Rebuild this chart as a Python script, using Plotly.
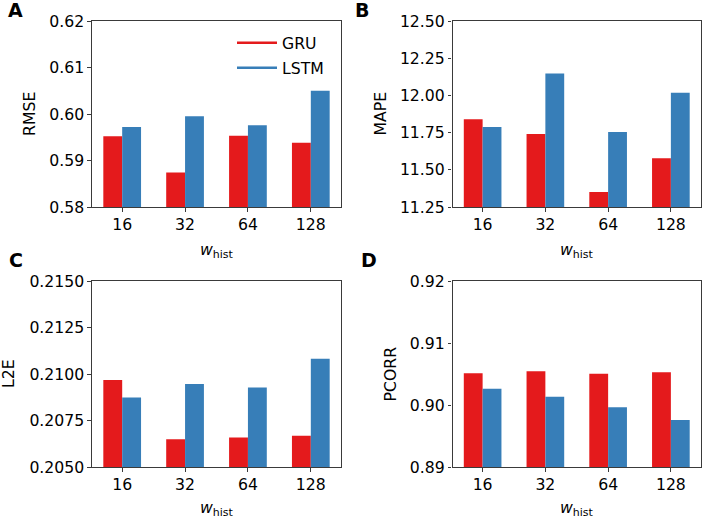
import plotly.graph_objects as go

# ---------------- data ----------------
w_hist = ["16", "32", "64", "128"]

rmse_gru = [0.5952, 0.5874, 0.5953, 0.5938]
rmse_lstm = [0.5972, 0.5995, 0.5976, 0.6050]

mape_gru = [11.839, 11.741, 11.351, 11.577]
mape_lstm = [11.788, 12.148, 11.754, 12.018]

l2e_gru = [0.20968, 0.20649, 0.20658, 0.20668]
l2e_lstm = [0.20873, 0.20946, 0.20927, 0.21082]

pcorr_gru = [0.90511, 0.90543, 0.90505, 0.90527]
pcorr_lstm = [0.90263, 0.90134, 0.89962, 0.89758]

rmse_ticks = [0.58, 0.59, 0.60, 0.61, 0.62]
mape_ticks = [11.25, 11.50, 11.75, 12.00, 12.25, 12.50]
l2e_ticks = [0.2050, 0.2075, 0.2100, 0.2125, 0.2150]
pcorr_ticks = [0.89, 0.90, 0.91, 0.92]

RED = "#e41a1c"
BLUE = "#377eb8"
FONT = "DejaVu Sans"
W, H = 704, 519
AX = "#3a3a3a"

panels = [
    dict(gru=rmse_gru, lstm=rmse_lstm, ticks=rmse_ticks, fmt=".2f", name="RMSE", letter="A"),
    dict(gru=mape_gru, lstm=mape_lstm, ticks=mape_ticks, fmt=".2f", name="MAPE", letter="B"),
    dict(gru=l2e_gru, lstm=l2e_lstm, ticks=l2e_ticks, fmt=".4f", name="L2E", letter="C"),
    dict(gru=pcorr_gru, lstm=pcorr_lstm, ticks=pcorr_ticks, fmt=".2f", name="PCORR", letter="D"),
]

# pixel layout of axes boxes (left, right, top, bottom)
boxes = [
    (92, 341, 21, 207),
    (452.5, 701, 21, 207),
    (92, 341, 281, 467),
    (452.5, 701, 281, 467),
]
ytitle_x = [29, 379.5, 8, 389.5]
xtitle_dy = [44, 44, 41, 41]
letter_pos = [(15.5, 9.5), (362, 9.5), (15.5, 259.5), (369, 259.5)]

fig = go.Figure()
layout = dict(
    width=W, height=H,
    margin=dict(l=0, r=0, t=0, b=0),
    paper_bgcolor="white", plot_bgcolor="white",
    font=dict(family=FONT, size=15.7, color="black"),
    barmode="group", bargap=0.4, bargroupgap=0.0,
    showlegend=True,
    legend=dict(x=232 / W, y=1 - 26 / H, xanchor="left", yanchor="top",
                bgcolor="rgba(0,0,0,0)", font=dict(size=15.7, family=FONT),
                tracegroupgap=1.6, traceorder="grouped", itemwidth=40),
)
annotations = []

for i, p in enumerate(panels):
    n = "" if i == 0 else str(i + 1)
    xa, ya = "x" + n, "y" + n
    l, r, t, b = boxes[i]
    fig.add_trace(go.Bar(x=w_hist, y=p["gru"], marker=dict(color=RED, line=dict(width=0)),
                         xaxis=xa, yaxis=ya, showlegend=False, name="GRU"))
    fig.add_trace(go.Bar(x=w_hist, y=p["lstm"], marker=dict(color=BLUE, line=dict(width=0)),
                         xaxis=xa, yaxis=ya, showlegend=False, name="LSTM"))
    axis_common = dict(showline=True, linecolor=AX, linewidth=1.1, mirror=True,
                       ticks="outside", ticklen=3.5, tickwidth=1.1, tickcolor=AX,
                       showgrid=False, zeroline=False, automargin=False,
                       tickfont=dict(family=FONT, size=15.7, color="black"))
    layout["xaxis" + n] = dict(axis_common, domain=[l / W, r / W], anchor=ya,
                               type="category", range=[-0.48, 3.48])
    layout["yaxis" + n] = dict(axis_common, domain=[1 - b / H, 1 - t / H], anchor=xa,
                               range=[p["ticks"][0], p["ticks"][-1]],
                               tickvals=p["ticks"], tickformat=p["fmt"])
    # axis titles
    annotations.append(dict(text=p["name"], x=ytitle_x[i] / W, y=1 - ((t + b) / 2) / H,
                            xref="paper", yref="paper", showarrow=False, textangle=-90,
                            xanchor="center", yanchor="middle",
                            font=dict(family=FONT, size=15.7, color="black")))
    annotations.append(dict(text="<i>w</i><sub>hist</sub>", x=((l + r) / 2) / W,
                            y=1 - (b + xtitle_dy[i]) / H,
                            xref="paper", yref="paper", showarrow=False,
                            xanchor="center", yanchor="middle",
                            font=dict(family=FONT, size=15.7, color="black")))
    lx, ly = letter_pos[i]
    annotations.append(dict(text="<b>%s</b>" % p["letter"], x=lx / W, y=1 - ly / H,
                            xref="paper", yref="paper", showarrow=False,
                            xanchor="center", yanchor="middle",
                            font=dict(family=FONT, size=19, color="black")))

# legend entries drawn as lines (like the reference)
fig.add_trace(go.Scatter(x=[None], y=[None], mode="lines", name="GRU", legendgroup="g",
                         line=dict(color=RED, width=2.5), xaxis="x", yaxis="y"))
fig.add_trace(go.Scatter(x=[None], y=[None], mode="lines", name="LSTM", legendgroup="l",
                         line=dict(color=BLUE, width=2.5), xaxis="x", yaxis="y"))

layout["annotations"] = annotations
fig.update_layout(**layout)
fig.write_html("out.html", config={"displayModeBar": False},
               post_script="document.body.style.margin='0';document.body.style.overflow='hidden';")
